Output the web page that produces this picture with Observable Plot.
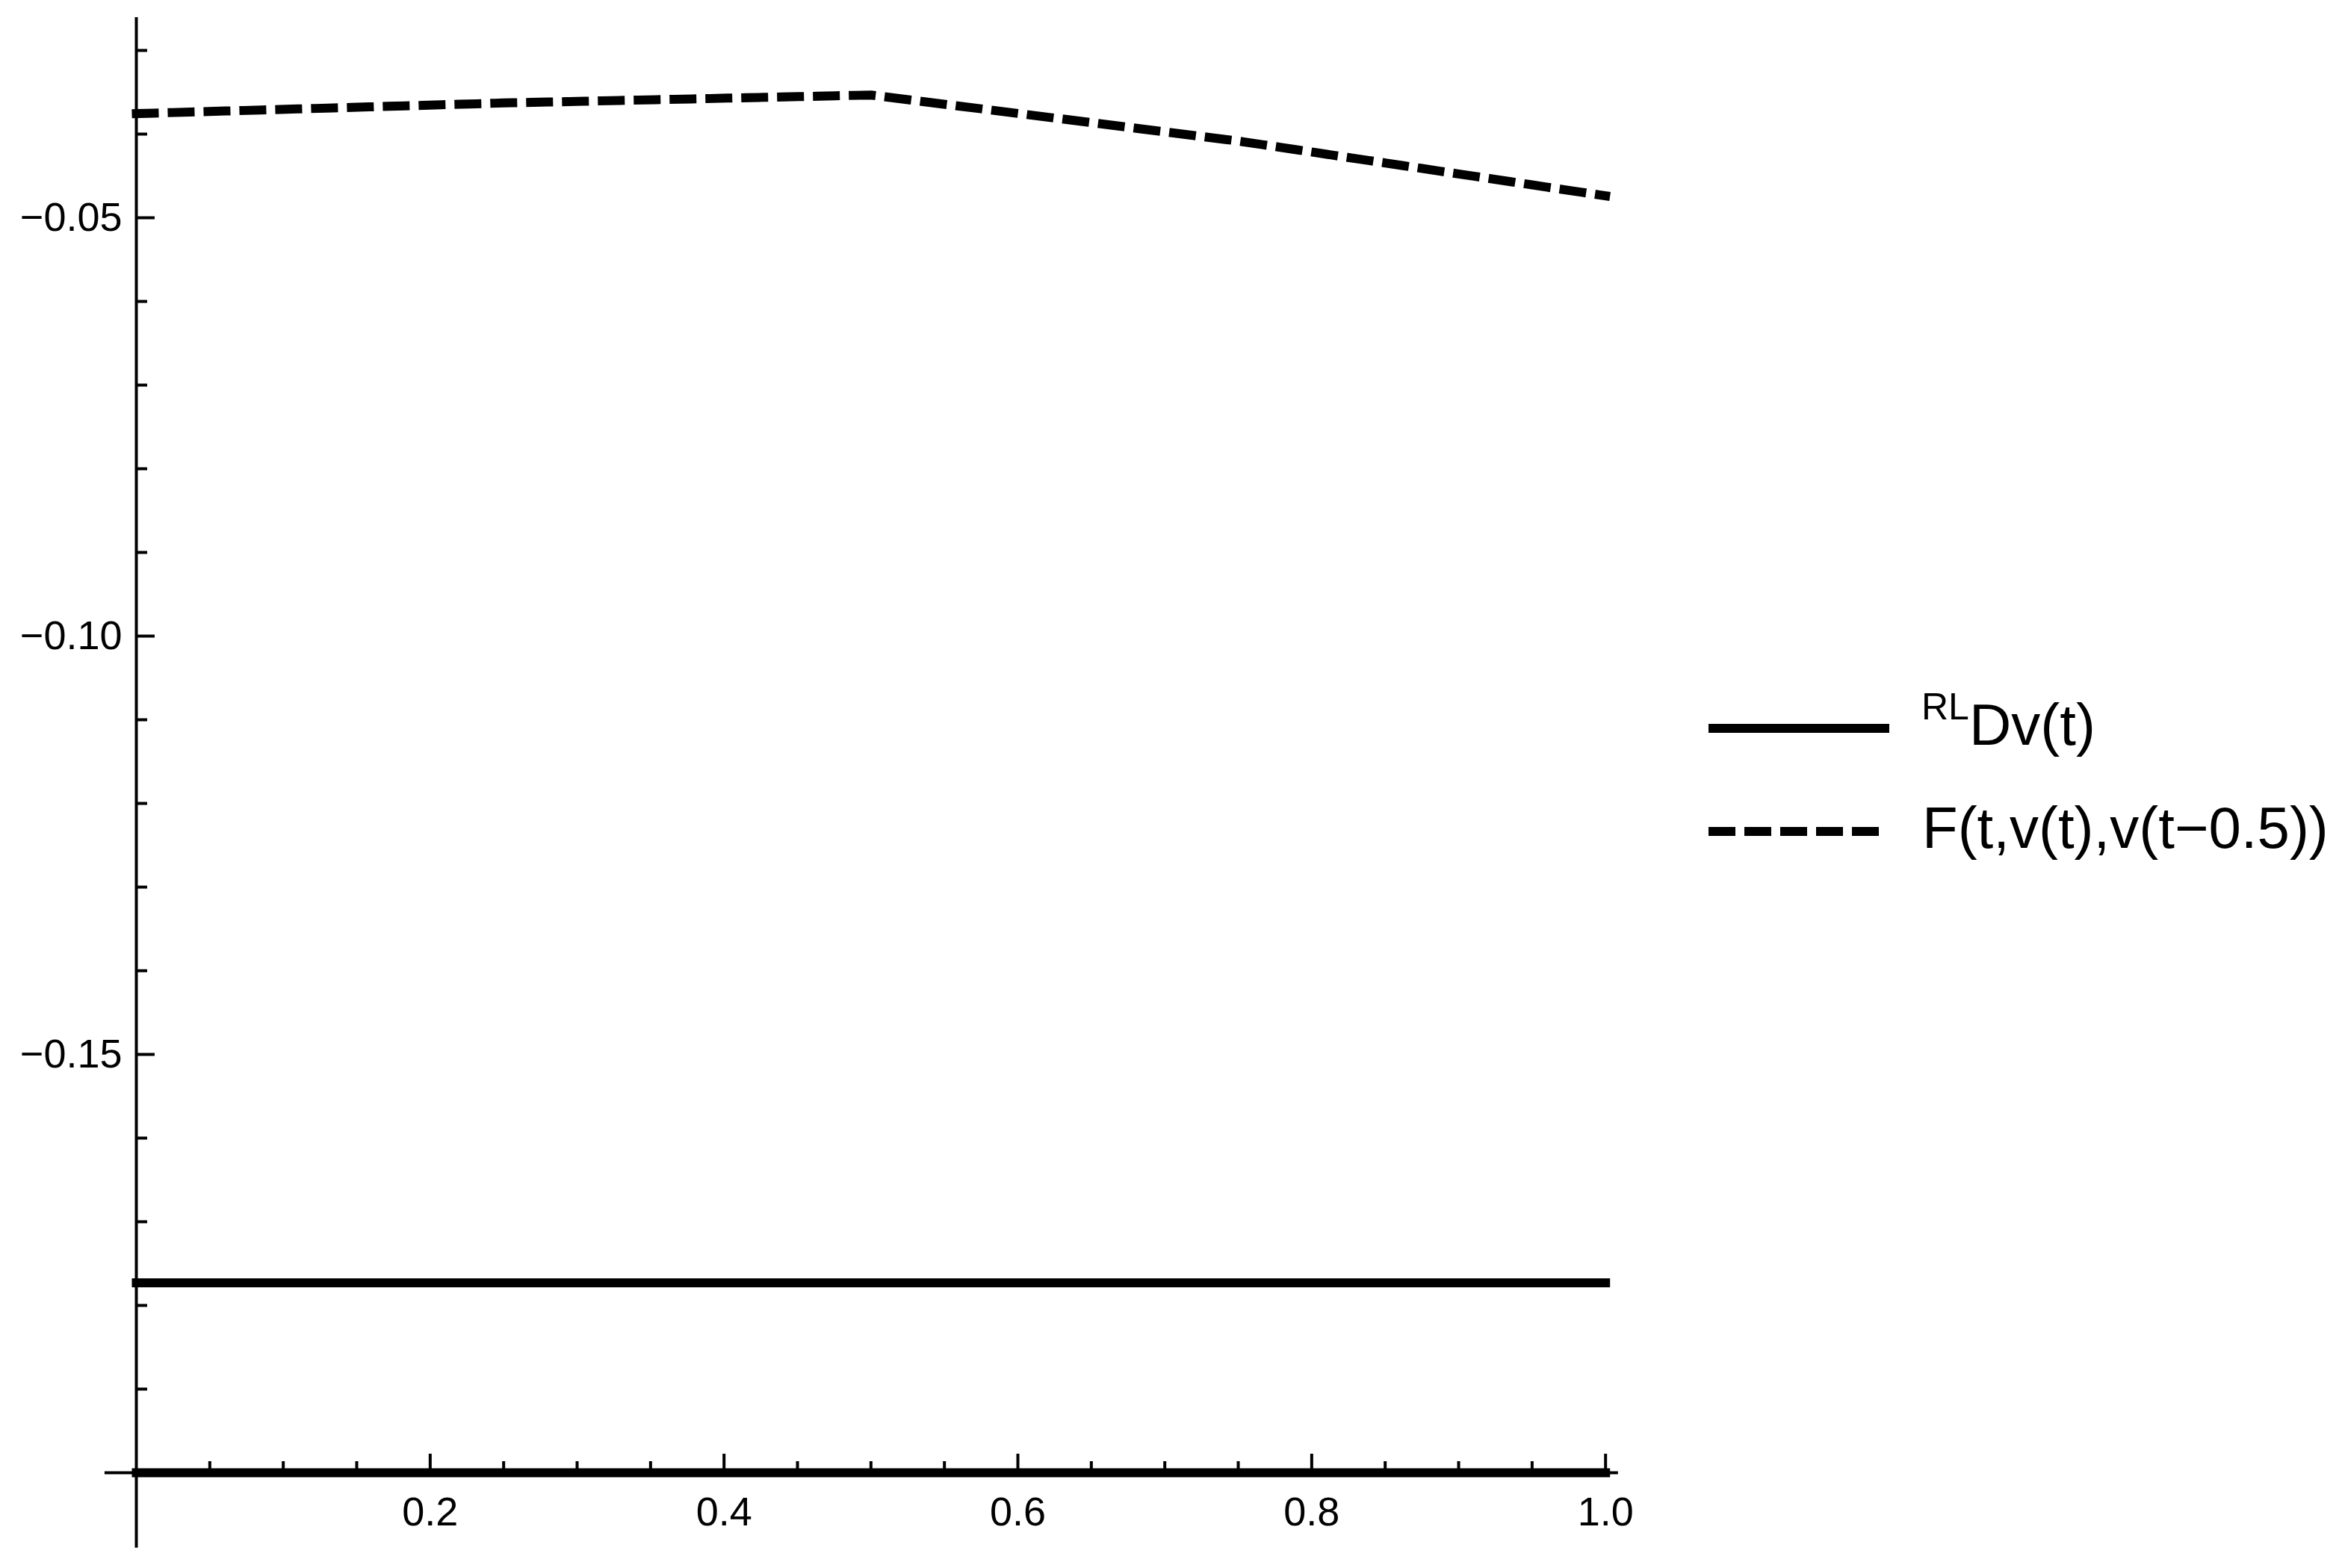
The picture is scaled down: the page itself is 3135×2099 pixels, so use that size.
<!DOCTYPE html>
<html>
<head>
<meta charset="utf-8">
<script src="https://cdn.jsdelivr.net/npm/d3@7"></script>
<script src="https://cdn.jsdelivr.net/npm/@observablehq/plot@0.6"></script>
<style>
  html, body { margin: 0; padding: 0; background: #fff; overflow: hidden; }
  #chart svg { display: block; }
</style>
</head>
<body>
<div id="chart"></div>
<script>
// ---- data ----
const fT = [0, 0.25, 0.5, 0.75, 1];
const fValues = [-0.03755, -0.03628, -0.03533, -0.04083, -0.04738];
const rlT = [0, 1];
const rlValues = [-0.1773, -0.1773];
const baseT = [0, 1];
const baseValues = [-0.2, -0.2];

const xMajorTicks = [0.2, 0.4, 0.6, 0.8, 1.0];
const xMinorTicks = [0.05, 0.1, 0.15, 0.25, 0.3, 0.35, 0.45, 0.5, 0.55, 0.65, 0.7, 0.75, 0.85, 0.9, 0.95];
const yMajorTicks = [-0.15, -0.10, -0.05];
const yMinorTicks = [-0.19, -0.18, -0.17, -0.16, -0.14, -0.13, -0.12, -0.11, -0.09, -0.08, -0.07, -0.06, -0.04, -0.03];
const xAxisExtent = [-0.0214, 1.0087];
const yAxisExtent = [-0.209, -0.02607];
const legendLabels = ["Dv(t)", "F(t,v(t),v(t\u22120.5))"];
const legendSup = "RL";

const fData = fT.map((t, i) => ({t, v: fValues[i]}));
const rlData = rlT.map((t, i) => ({t, v: rlValues[i]}));
const baseData = baseT.map((t, i) => ({t, v: baseValues[i]}));

const fmtY = d => (d < 0 ? "\u2212" : "") + Math.abs(d).toFixed(2);
const fmtX = d => d.toFixed(1);

const chart = Plot.plot({
  width: 3135,
  height: 2099,
  marginLeft: 182,
  marginRight: 986.3,
  marginTop: 23,
  marginBottom: 128,
  x: {domain: [0, 1]},
  y: {domain: [-0.2, -0.02607]},
  style: {fontFamily: "'Liberation Sans', Arial, sans-serif", fontSize: "53px", background: "#fff", color: "#000"},
  marks: [
    // axis lines
    Plot.ruleX([0], {y1: yAxisExtent[0], y2: yAxisExtent[1], stroke: "#000", strokeWidth: 4}),
    Plot.ruleY([-0.2], {x1: xAxisExtent[0], x2: xAxisExtent[1], stroke: "#000", strokeWidth: 4}),
    // ticks
    Plot.axisY(yMajorTicks, {anchor: "left", tickSize: -25, strokeWidth: 4, fill: "none", label: null}),
    Plot.axisY(yMinorTicks, {anchor: "left", tickSize: -15, strokeWidth: 4, fill: "none", label: null}),
    Plot.axisY(yMajorTicks, {anchor: "left", tickSize: 0, tickPadding: 19, tickFormat: fmtY, fontSize: 54, label: null}),
    Plot.axisX(xMajorTicks, {anchor: "bottom", tickSize: -25, strokeWidth: 4, fill: "none", label: null}),
    Plot.axisX(xMinorTicks, {anchor: "bottom", tickSize: -15, strokeWidth: 4, fill: "none", label: null}),
    Plot.axisX(xMajorTicks, {anchor: "bottom", tickSize: 0, tickPadding: 32, tickFormat: fmtX, fontSize: 54, label: null}),
    // data
    Plot.line(baseData, {x: "t", y: "v", stroke: "#000", strokeWidth: 12, strokeLinecap: "square"}),
    Plot.line(rlData, {x: "t", y: "v", stroke: "#000", strokeWidth: 12, strokeLinecap: "square"}),
    Plot.line(fData, {x: "t", y: "v", stroke: "#000", strokeWidth: 12, strokeLinecap: "square", strokeLinejoin: "miter", strokeDasharray: "24,24"})
  ]
});

document.getElementById("chart").appendChild(chart);

// legend (drawn into the same SVG, to the right of the plot)
const svg = d3.select(chart);
const lg = svg.append("g").attr("class", "legend").attr("text-anchor", "start");
lg.append("line")
  .attr("x1", 2293).attr("x2", 2523).attr("y1", 975).attr("y2", 975)
  .attr("stroke", "#000").attr("stroke-width", 12).attr("stroke-linecap", "square");
lg.append("line")
  .attr("x1", 2293).attr("x2", 2509).attr("y1", 1113).attr("y2", 1113)
  .attr("stroke", "#000").attr("stroke-width", 12).attr("stroke-linecap", "square")
  .attr("stroke-dasharray", "24,24");
const t1 = lg.append("text")
  .attr("x", 2572).attr("y", 997)
  .attr("text-anchor", "start")
  .attr("font-family", "'Liberation Sans', Arial, sans-serif")
  .attr("font-size", 78).attr("fill", "#000");
t1.append("tspan").attr("font-size", 50).attr("dy", -34).text(legendSup);
t1.append("tspan").attr("dy", 34).text(legendLabels[0]);
lg.append("text")
  .attr("x", 2573).attr("y", 1135)
  .attr("text-anchor", "start")
  .attr("font-family", "'Liberation Sans', Arial, sans-serif")
  .attr("font-size", 78).attr("fill", "#000")
  .text(legendLabels[1]);
</script>
</body>
</html>
